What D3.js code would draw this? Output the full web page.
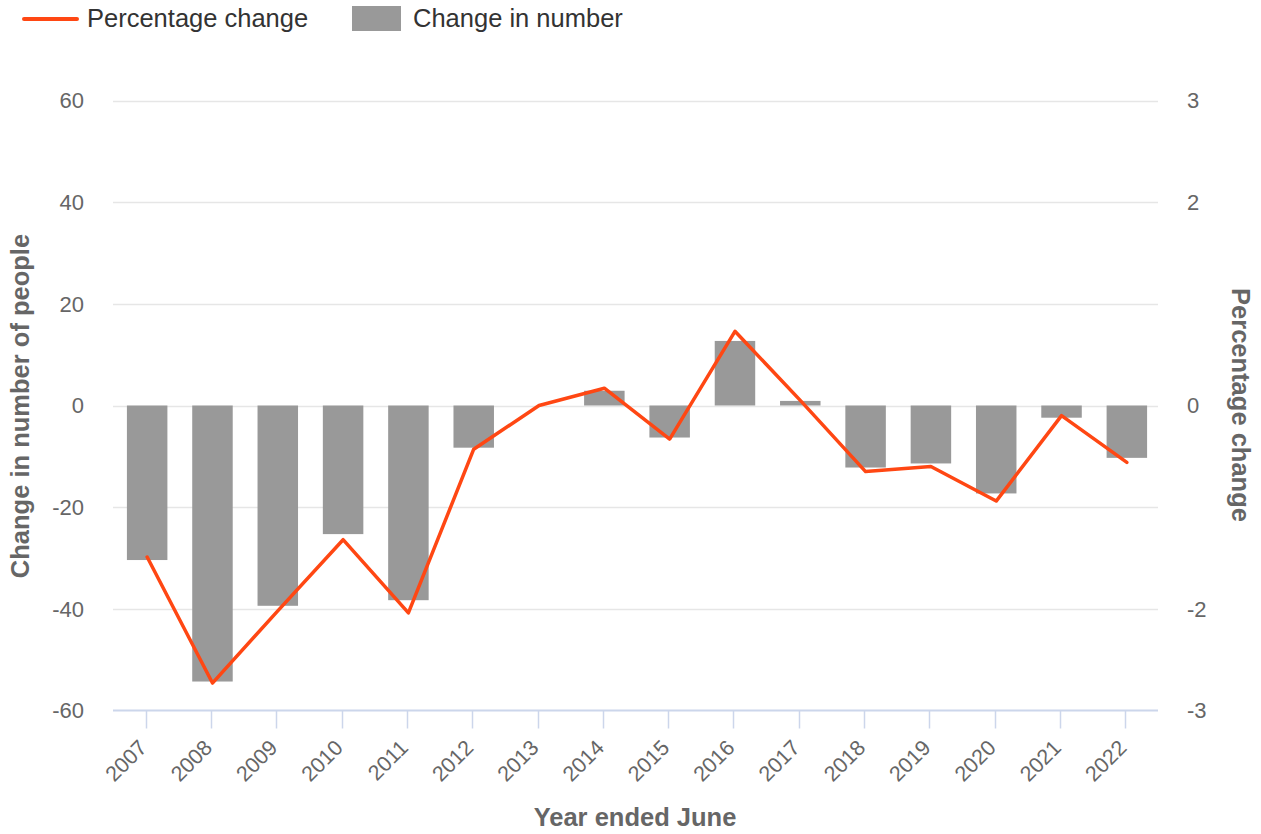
<!DOCTYPE html>
<html>
<head>
<meta charset="utf-8">
<script src="https://cdn.jsdelivr.net/npm/d3@7"></script>
<style>
  html, body { margin: 0; padding: 0; background: #ffffff; }
  svg { display: block; font-family: "Liberation Sans", Arial, sans-serif; }
</style>
</head>
<body>
<svg id="chart" width="1261" height="834"></svg>
<script>
const years = ["2007","2008","2009","2010","2011","2012","2013","2014","2015","2016","2017","2018","2019","2020","2021","2022"];
const changeInNumber = [-30.4, -54.3, -39.4, -25.3, -38.3, -8.3, 0, 2.9, -6.3, 12.7, 0.9, -12.2, -11.4, -17.3, -2.4, -10.3];
const percentageChange = [-1.49, -2.73, -2.02, -1.32, -2.04, -0.43, 0.0, 0.17, -0.33, 0.73, 0.05, -0.65, -0.6, -0.94, -0.1, -0.56];
const leftTicks = [-60, -40, -20, 0, 20, 40, 60];
const rightTicks = [-3, -2, -1, 0, 1, 2, 3];
const rightTickLabels = ["-3", "-2", "", "0", "", "2", "3"];
const seriesNames = ["Percentage change", "Change in number"];
const axisTitles = { left: "Change in number of people", right: "Percentage change", bottom: "Year ended June" };

const lineColor = "#ff4713";
const barColor = "#999999";
const textColor = "#666666";

const svg = d3.select("#chart");
const plot = { left: 113, right: 1158, top: 100.5, bottom: 710.5 };
const markShift = 1.5;

const x = d3.scaleBand().domain(years).range([plot.left + markShift, plot.right + markShift]).paddingInner(0.38).paddingOuter(0.19);
const xc = d => x(d) + x.bandwidth() / 2;
const yL = d3.scaleLinear().domain([-60, 60]).range([plot.bottom, plot.top]);
const yR = d3.scaleLinear().domain([-3, 3]).range([plot.bottom, plot.top]);

// gridlines
svg.append("g").selectAll("line").data(leftTicks.filter(t => t !== -60)).join("line")
  .attr("x1", plot.left).attr("x2", plot.right)
  .attr("y1", d => Math.round(yL(d)) + 0.5).attr("y2", d => Math.round(yL(d)) + 0.5)
  .attr("stroke", "#e6e6e6").attr("stroke-width", 1.5);

// left axis labels
svg.append("g").selectAll("text").data(leftTicks).join("text")
  .attr("x", 84).attr("y", d => yL(d)).attr("dy", "0.36em")
  .attr("text-anchor", "end").attr("fill", textColor).attr("font-size", 22)
  .text(d => d);

// right axis labels
svg.append("g").selectAll("text").data(rightTicks).join("text")
  .attr("x", 1187).attr("y", d => yR(d)).attr("dy", "0.36em")
  .attr("text-anchor", "start").attr("fill", textColor).attr("font-size", 22)
  .text((d, i) => rightTickLabels[i]);

// bars
svg.append("g").selectAll("rect").data(years).join("rect")
  .attr("x", d => x(d))
  .attr("width", x.bandwidth())
  .attr("y", (d, i) => Math.min(yL(changeInNumber[i]), yL(0)))
  .attr("height", (d, i) => Math.abs(yL(changeInNumber[i]) - yL(0)))
  .attr("fill", barColor);

// x axis line and ticks
svg.append("line")
  .attr("x1", plot.left).attr("x2", plot.right)
  .attr("y1", plot.bottom).attr("y2", plot.bottom)
  .attr("stroke", "#ccd6eb").attr("stroke-width", 2);
svg.append("g").selectAll("line").data(years).join("line")
  .attr("x1", d => Math.round(xc(d) - markShift) + 0.5).attr("x2", d => Math.round(xc(d) - markShift) + 0.5)
  .attr("y1", plot.bottom).attr("y2", plot.bottom + 18)
  .attr("stroke", "#ccd6eb").attr("stroke-width", 1.5);

// x labels
svg.append("g").selectAll("text").data(years).join("text")
  .attr("transform", d => `translate(${xc(d) + 1},749) rotate(-45)`)
  .attr("text-anchor", "end").attr("fill", textColor).attr("font-size", 21.5)
  .text(d => d);

// line
const line = d3.line().x((d, i) => xc(years[i])).y(d => yR(d));
svg.append("path").datum(percentageChange)
  .attr("d", line).attr("fill", "none")
  .attr("stroke", lineColor).attr("stroke-width", 3.5)
  .attr("stroke-linejoin", "round").attr("stroke-linecap", "round");

// axis titles
svg.append("text")
  .attr("transform", "translate(29,406) rotate(-90)")
  .attr("text-anchor", "middle").attr("fill", textColor)
  .attr("font-size", 25.5).attr("font-weight", "bold")
  .text(axisTitles.left);
svg.append("text")
  .attr("transform", "translate(1232,405) rotate(90)")
  .attr("text-anchor", "middle").attr("fill", textColor)
  .attr("font-size", 25.5).attr("font-weight", "bold")
  .text(axisTitles.right);
svg.append("text")
  .attr("x", 635).attr("y", 826)
  .attr("text-anchor", "middle").attr("fill", textColor)
  .attr("font-size", 25.5).attr("font-weight", "bold")
  .text(axisTitles.bottom);

// legend
const lg = svg.append("g");
lg.append("line").attr("x1", 24).attr("x2", 77).attr("y1", 19).attr("y2", 19)
  .attr("stroke", lineColor).attr("stroke-width", 4).attr("stroke-linecap", "round");
lg.append("text").attr("x", 87).attr("y", 27).attr("font-size", 25.5).attr("fill", "#333333")
  .text(seriesNames[0]);
lg.append("rect").attr("x", 352).attr("y", 6).attr("width", 49).attr("height", 25).attr("fill", barColor);
lg.append("text").attr("x", 413).attr("y", 27).attr("font-size", 25.5).attr("fill", "#333333")
  .text(seriesNames[1]);
</script>
</body>
</html>
